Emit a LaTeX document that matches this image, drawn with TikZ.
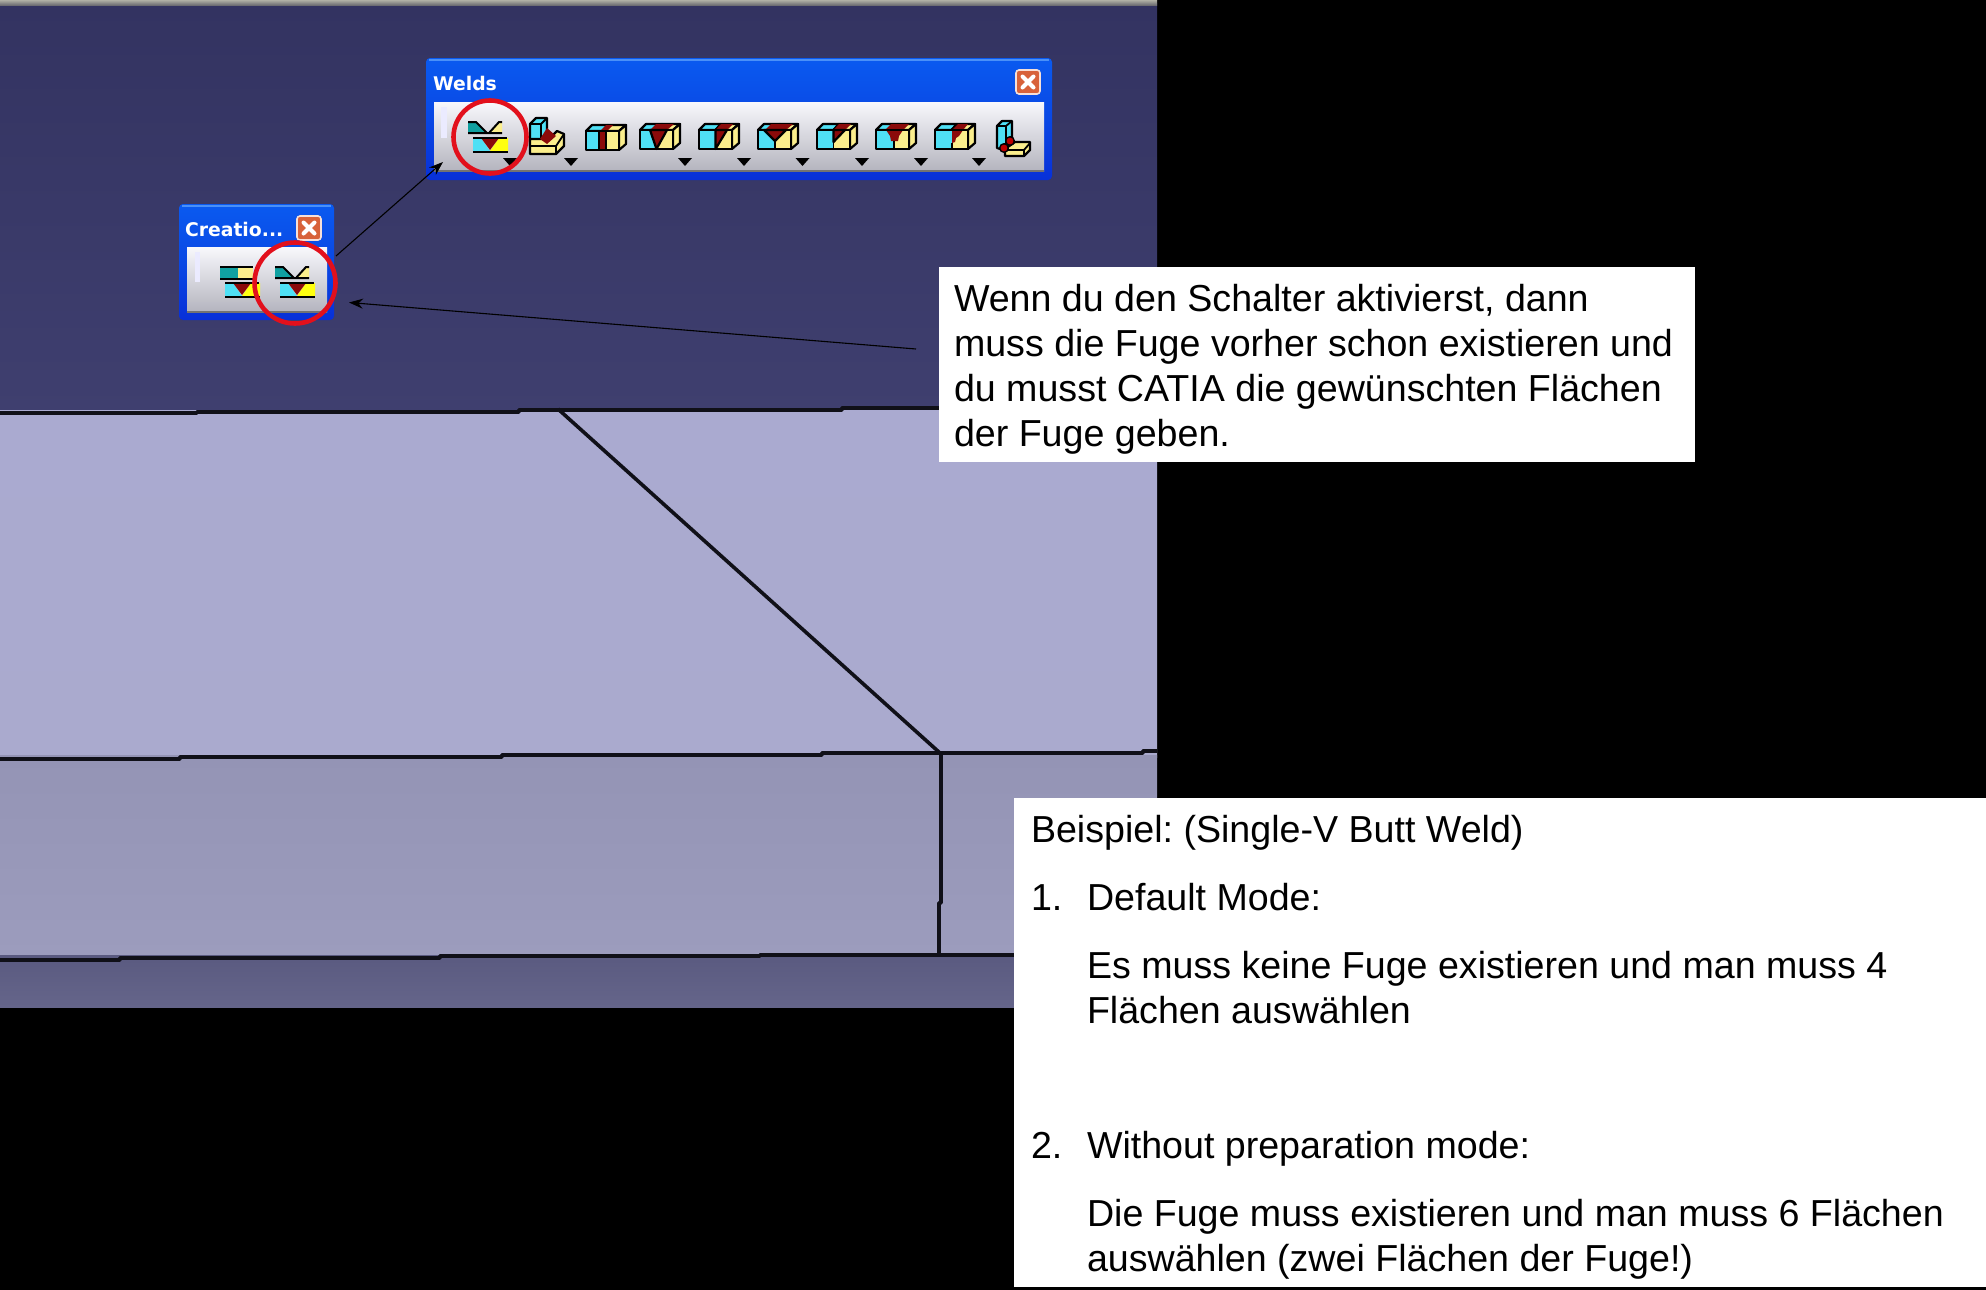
\documentclass[tikz,border=0pt]{standalone}
\usepackage{fontspec}
\setmainfont{Liberation Sans}
\newfontfamily\tbfont{DejaVu Sans}
\definecolor{icyan}{HTML}{4FE0F5}
\definecolor{iyel}{HTML}{FBEE8C}
\definecolor{ibyel}{HTML}{FFFF10}
\definecolor{ired}{HTML}{8B0A0A}
\definecolor{iteal}{HTML}{10A0A0}
\definecolor{ringred}{HTML}{E2101C}
\definecolor{edgeblk}{HTML}{101018}
\definecolor{wintop}{HTML}{0A5AF0}
\definecolor{winmid}{HTML}{0A48E4}
\definecolor{winbot}{HTML}{0830D8}
\definecolor{winhi}{HTML}{4A90F8}
\definecolor{bodytop}{HTML}{F8F8FC}
\definecolor{bodymid}{HTML}{DADAEA}
\definecolor{bodybot}{HTML}{B4B4BE}
\definecolor{btnf}{HTML}{D8623A}
\tikzset{
  ic/.style={draw=black,line width=1.1pt,line join=round},
  plate/.style={draw=edgeblk,line width=1.8pt,line join=round},
  ring/.style={draw=ringred,line width=2.3pt},
  note/.style={fill=white,draw=none},
  tx/.style={anchor=base west,inner sep=0pt,outer sep=0pt,font=\fontsize{18.8pt}{22pt}\selectfont,text=black},
  ttl/.style={anchor=base west,inner sep=0pt,outer sep=0pt,text=white,font=\tbfont\bfseries\fontsize{9.4pt}{11pt}\selectfont},
  drop/.style={fill=black,draw=none},
  conn/.style={draw=black,line width=0.55pt,-{Stealth[length=7pt,width=5pt]}},
}
\usetikzlibrary{arrows.meta}
\frenchspacing
\newcommand{\boxicon}[3]{%
  \begin{scope}[shift={(#1,#2)}]
    \path[ic,fill=icyan] (0,6) -- (6,0) -- (22,0) -- (16.5,6) -- cycle;
    \path[ic,fill=iyel] (16.5,6) -- (22,0) -- (40,0) -- (33,6) -- cycle;
    \path[ic,fill=iyel] (33,6) -- (40,0) -- (40,19) -- (33,25) -- cycle;
    \path[fill=icyan] (0,6) rectangle (16.5,25);
    \path[fill=iyel] (16.5,6) rectangle (33,25);
    #3
    \path[ic] (0,6) rectangle (33,25);
  \end{scope}}
\newcommand{\lowerbar}{%
  \path[fill=icyan] (5,17) -- (13,17) -- (22,30) -- (5,30) -- cycle;
  \path[fill=ibyel] (31,17) -- (40,17) -- (40,30) -- (22,30) -- cycle;
  \path[fill=ired] (13,17) -- (31,17) -- (22,29) -- cycle;
  \draw[black,line width=1pt] (5,17) -- (39,17) (5,30.5) -- (40,30.5);}
\newcommand{\weldsym}[2]{%
  \begin{scope}[shift={(#1,#2)}]
    \path[fill=iteal] (0,1) -- (8,1) -- (19,12) -- (0,12) -- cycle;
    \path[fill=iyel] (21,12) -- (31,1) -- (34,1) -- (34,12) -- cycle;
    \draw[black,line width=1pt] (0,1) -- (8,1) -- (19,12) -- (0,12) (19,12) -- (34,12) (21,12) -- (31,1) -- (34,1);
    \lowerbar
  \end{scope}}
\newcommand{\barsym}[2]{%
  \begin{scope}[shift={(#1,#2)}]
    \path[fill=iteal] (0,1) rectangle (18,13);
    \path[fill=iyel] (18,1) rectangle (33,13);
    \draw[black,line width=1pt] (0,1) -- (33,1) (0,13) -- (33,13);
    \lowerbar
  \end{scope}}
\newcommand{\closebtn}[2]{%
  \begin{scope}[shift={(#1,#2)}]
    \path[rounded corners=1.5pt,fill=btnf,draw=white!80!btnf,line width=0.8pt] (-12,-12) rectangle (12,12);
    \draw[white,line width=2pt,line cap=round] (-5.5,-5.5) -- (5.5,5.5) (-5.5,5.5) -- (5.5,-5.5);
  \end{scope}}
\newcommand{\toolwin}[8]{%
  \path[rounded corners=2pt,top color=wintop,bottom color=winbot,middle color=winmid] (#1,#2) rectangle (#3,#4);
  \draw[winhi,line width=1.2pt] (#1+3,#2+2) -- (#3-3,#2+2);
  \path[top color=bodytop,middle color=bodymid,bottom color=bodybot] (#5,#6) rectangle (#7,#8);
  \draw[black!55,line width=0.8pt] (#5,#8) -- (#7,#8);}
\begin{document}
\begin{tikzpicture}[x=0.5pt,y=-0.5pt]
\useasboundingbox (0,0) rectangle (1986,1290);
\fill[black] (0,0) rectangle (1986,1290);
\path[top color={rgb,255:red,51;green,51;blue,97},bottom color={rgb,255:red,63;green,63;blue,111}] (0,3) rectangle (1157,413);
\path[top color={rgb,255:red,176;green,176;blue,165},bottom color={rgb,255:red,110;green,110;blue,115}] (0,0) rectangle (1157,5);
\path[top color={rgb,255:red,170;green,170;blue,208},bottom color={rgb,255:red,170;green,170;blue,206}] (0,410) rectangle (1157,757);
\path[top color={rgb,255:red,148;green,148;blue,181},bottom color={rgb,255:red,156;green,156;blue,189}] (0,755) rectangle (1157,957);
\path[top color={rgb,255:red,90;green,90;blue,128},bottom color={rgb,255:red,101;green,101;blue,138}] (0,955) rectangle (1157,1007);
\coordinate (d1) at (558,409);
\coordinate (d2) at (940,753);
\draw[plate] (0,413) -- (197,413) -- (197,412) -- (519,412) -- (519,410) -- (842,410) -- (842,408) -- (939,408);
\draw[plate] (0,759) -- (180,759) -- (180,757) -- (502,757) -- (502,755) -- (822,755) -- (822,753) -- (1143,753) -- (1143,751) -- (1157,751);
\draw[plate] (0,960) -- (120,960) -- (120,958) -- (440,958) -- (440,956) -- (760,956) -- (760,955) -- (1014,955);
\draw[plate] (d1) -- (d2);
\draw[plate] (941,753) -- (941,903) -- (939,903) -- (939,955);
% Welds toolbar
\toolwin{426}{58}{1052}{180}{434}{102}{1044}{171}
\node[ttl] (tw) at (433,90) {Welds};
\closebtn{1028}{82}
\path[fill=white!92!blue] (441,107) rectangle (447,138);
\weldsym{468}{121}
% fillet icon
\path[ic,fill=icyan] (530,124) -- (536,118) -- (547,118) -- (547,140) -- (541,146) -- (530,146) -- cycle;
\draw[black,line width=0.9pt] (530,124) -- (541,124) -- (547,118) (541,124) -- (541,146);
\path[ic,fill=iyel] (530,139) -- (549,139) -- (557,131) -- (564,134) -- (564,146) -- (556,154) -- (530,154) -- cycle;
\draw[black,line width=0.9pt] (530,146) -- (556,146) -- (564,134) (556,146) -- (556,154);
\path[fill=ired] (540,139) -- (547,128) -- (556,136) -- (547,144) -- cycle;
\boxicon{586}{125}{%
  \path[ic,fill=ired] (13,6) -- (20,6) -- (20,25) -- (13,25) -- cycle;
  \path[fill=ired] (14,6) -- (20,0) -- (27,0) -- (21,6) -- cycle;}
\boxicon{640}{124}{%
  \path[fill=ired] (10,6) -- (16,0) -- (34,0) -- (27,6) -- cycle;
  \path[ic,fill=ired] (10,6) -- (27,6) -- (16.5,25) -- cycle;}
\boxicon{699}{124}{%
  \path[fill=ired] (16.5,6) -- (22,0) -- (34,0) -- (28,6) -- cycle;
  \path[ic,fill=ired] (16.5,6) -- (28,6) -- (16.5,25) -- cycle;}
\boxicon{758}{124}{%
  \path[fill=ired] (7,6) -- (13,0) -- (35,0) -- (28,6) -- cycle;
  \path[ic,fill=ired] (6,6) -- (28,6) -- (17,17) -- cycle;
  \draw[black,line width=0.9pt] (17,17) -- (17,25);}
\boxicon{817}{124}{%
  \path[fill=ired] (16.5,6) -- (22,0) -- (34,0) -- (28,6) -- cycle;
  \path[ic,fill=ired] (16.5,6) -- (28,6) -- (16.5,18) -- cycle;
  \draw[black,line width=0.9pt] (16.5,18) -- (16.5,25);}
\boxicon{876}{124}{%
  \path[fill=ired] (9,6) -- (15,0) -- (33,0) -- (27,6) -- cycle;
  \path[fill=ired] (10,6) -- (27,6) -- (23,12) -- (22,17) -- (15,17) -- (14,12) -- cycle;
  \draw[black,line width=0.9pt] (18,17) -- (18,25);}
\boxicon{935}{124}{%
  \path[fill=ired] (17,6) -- (23,0) -- (33,0) -- (28,6) -- cycle;
  \path[fill=ired] (17,6) -- (28,6) -- (24,12) -- (21,14) -- (20,18) -- (17,19) -- cycle;
  \draw[black,line width=0.9pt] (17,19) -- (17,25);}
% corner weld icon
\path[ic,fill=icyan] (997,126) -- (1002,121) -- (1012,121) -- (1012,143) -- (1003,150) -- (997,148) -- cycle;
\draw[black,line width=0.9pt] (997,126) -- (1006,126) -- (1012,121) (1006,126) -- (1006,146);
\path[ic,fill=iyel] (1005,149) -- (1015,142) -- (1030,142) -- (1030,150) -- (1024,156) -- (1005,156) -- cycle;
\draw[black,line width=0.9pt] (1005,150) -- (1024,150) -- (1030,143) (1024,150) -- (1024,156);
\path[ic,fill=red!75!black,line width=0.7pt] (1004,148) circle (4.3);
\path[ic,fill=red!75!black,line width=0.7pt] (1010,141) circle (4.3);
% drop arrows
\foreach \dx in {510,571,685,744,802.5,862,921,979}
  \path[drop] (\dx-7,158) -- (\dx+7,158) -- (\dx,166) -- cycle;
\draw[ring] (490,137) circle (36.5);
% Creation toolbar
\toolwin{179}{204}{334}{320}{187}{247}{327}{312}
\node[ttl] (tc) at (185,236) {Creatio...};
\closebtn{309}{228}
\path[fill=white!92!blue] (195,252) rectangle (200,282);
\barsym{220}{266}
\weldsym{275}{266}
\draw[ring] (295,283) circle (40.5);
% connectors
\coordinate (a1s) at (336,256);
\coordinate (a1t) at (443,162);
\coordinate (a2s) at (916,349);
\coordinate (a2t) at (349,302.5);
\draw[conn] (a1s) -- (a1t);
\draw[conn] (a2s) -- (a2t);
% note boxes
\path[note] (939,267) rectangle (1695,462);
\node[tx] (n1) at (954,311) {Wenn du den Schalter aktivierst, dann};
\node[tx] (n2) at (954,356) {muss die Fuge vorher schon existieren und};
\node[tx] (n3) at (954,401) {du musst CATIA die gewünschten Flächen};
\node[tx] (n4) at (954,446) {der Fuge geben.};
\path[note] (1014,798) rectangle (1986,1287);
\node[tx] (b1) at (1031,842) {Beispiel: (Single-V Butt Weld)};
\node[tx] (b2) at (1031,910) {1.};
\node[tx] (b3) at (1087,910) {Default Mode:};
\node[tx] (b4) at (1087,978) {Es muss keine Fuge existieren und man muss 4};
\node[tx] (b5) at (1087,1023) {Flächen auswählen};
\node[tx] (b6) at (1031,1158) {2.};
\node[tx] (b7) at (1087,1158) {Without preparation mode:};
\node[tx] (b8) at (1087,1226) {Die Fuge muss existieren und man muss 6 Flächen};
\node[tx] (b9) at (1087,1271) {auswählen (zwei Flächen der Fuge!)};
\end{tikzpicture}
\end{document}
